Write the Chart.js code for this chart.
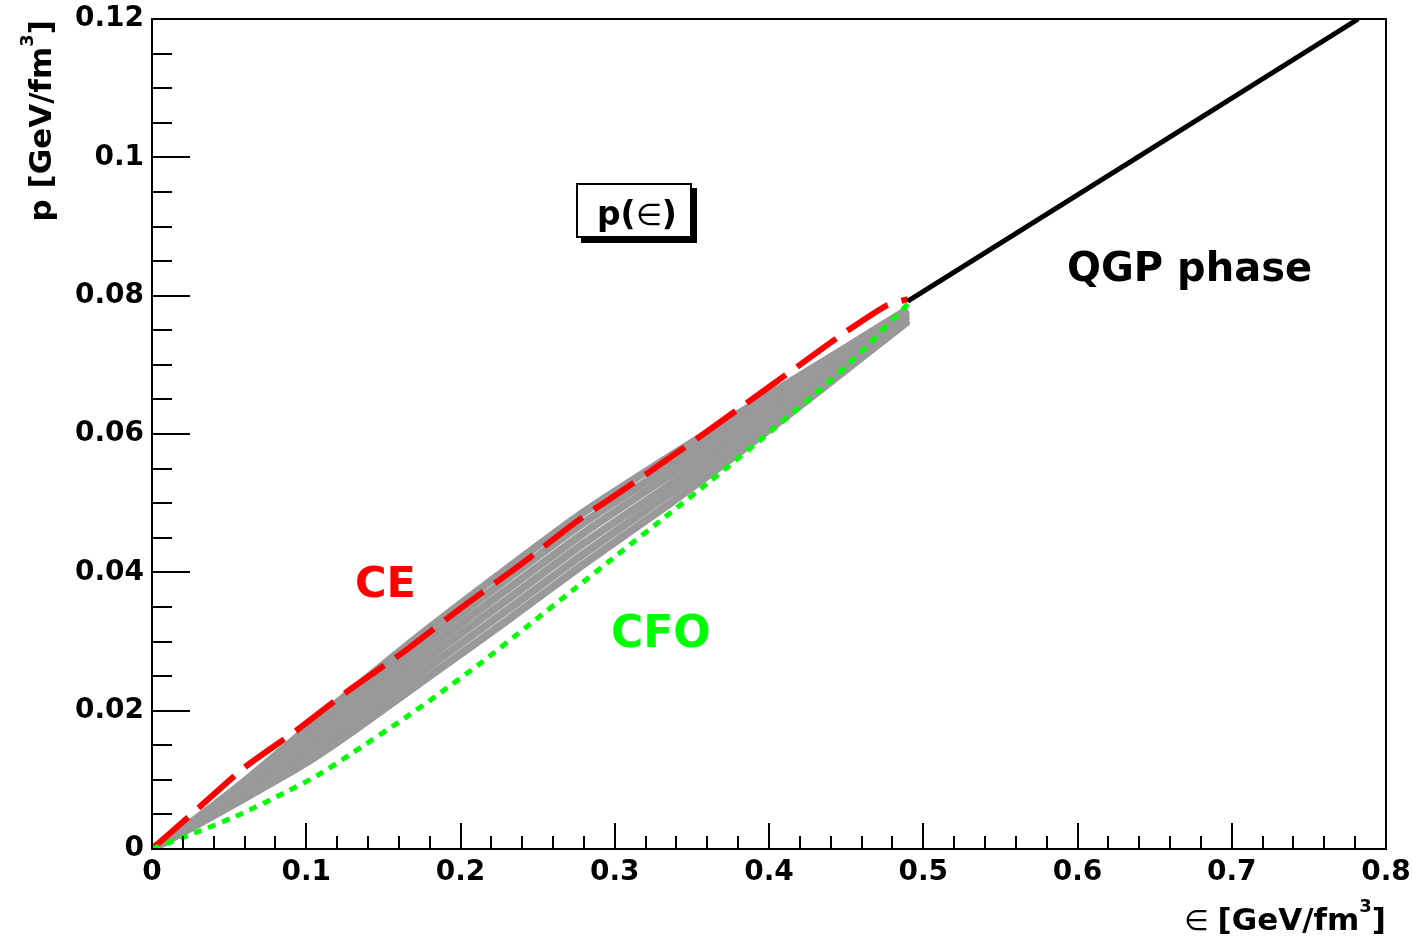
<!DOCTYPE html>
<html>
<head>
<meta charset="utf-8">
<script src="https://cdn.jsdelivr.net/npm/chart.js@4/dist/chart.umd.min.js"></script>
<style>
  html, body { margin: 0; padding: 0; background: #fff; }
  #wrap { width: 1412px; height: 942px; position: relative; }
</style>
</head>
<body>
<div id="wrap"><canvas id="eosChart"></canvas></div>
<script>
// ---- data ----
const xTickLabels = ['0', '0.1', '0.2', '0.3', '0.4', '0.5', '0.6', '0.7', '0.8'];
const yTickLabels = ['0', '0.02', '0.04', '0.06', '0.08', '0.1', '0.12'];

// CE (red, dashed)
const ceE = [0, 0.027, 0.06, 0.094, 0.128, 0.165, 0.2, 0.24, 0.275, 0.31, 0.345, 0.38, 0.415, 0.45, 0.4765, 0.49];
const ceP = [0, 0.0053, 0.0118, 0.0172, 0.023, 0.0288, 0.0348, 0.0413, 0.0473, 0.0526, 0.058, 0.0636, 0.0692, 0.0748, 0.0786, 0.0795];

// CFO (green, dotted)
const cfoE = [0, 0.031, 0.057, 0.083, 0.107, 0.128, 0.165, 0.1846, 0.2126, 0.245, 0.2755, 0.3015, 0.336, 0.362, 0.4006, 0.433, 0.459, 0.49];
const cfoP = [0, 0.0026, 0.0050, 0.0078, 0.0106, 0.0136, 0.0191, 0.0222, 0.0268, 0.0325, 0.0379, 0.0425, 0.0486, 0.0532, 0.0603, 0.0664, 0.0717, 0.0788];

// grey band of curves
const greyE = [0, 0.03, 0.065, 0.1, 0.13, 0.18, 0.23, 0.28, 0.336, 0.38, 0.415, 0.45, 0.49];
const grey1 = [0, 0.0046, 0.0107, 0.0173, 0.0230, 0.0320, 0.0405, 0.0487, 0.0568, 0.0629, 0.0677, 0.0725, 0.0780];
const grey2 = [0, 0.0044, 0.0102, 0.0163, 0.0218, 0.0306, 0.0390, 0.0472, 0.0554, 0.0618, 0.0668, 0.0719, 0.0777];
const grey3 = [0, 0.0042, 0.0096, 0.0154, 0.0206, 0.0292, 0.0375, 0.0457, 0.0541, 0.0606, 0.0659, 0.0712, 0.0773];
const grey4 = [0, 0.0040, 0.0091, 0.0144, 0.0194, 0.0278, 0.0360, 0.0442, 0.0527, 0.0595, 0.0650, 0.0706, 0.0770];
const grey5 = [0, 0.0038, 0.0085, 0.0135, 0.0182, 0.0264, 0.0345, 0.0427, 0.0514, 0.0583, 0.0641, 0.0699, 0.0766];
const grey6 = [0, 0.0036, 0.0080, 0.0125, 0.0170, 0.0250, 0.0330, 0.0412, 0.0500, 0.0572, 0.0632, 0.0693, 0.0763];

// QGP phase (black)
const qgpE = [0.49, 0.782];
const qgpP = [0.0792, 0.12];

const FONT = 'DejaVu Sans';
const toXY = (xs, ys) => xs.map((v, i) => ({ x: v, y: ys[i] }));

function greySet(vals) {
    return {
        data: toXY(greyE, vals),
        borderColor: '#999999',
        borderWidth: 8,
        order: 3
    };
}

// ticks inside the frame, ROOT style
const frameTicks = {
    id: 'frameTicks',
    afterDatasetsDraw(chart) {
        const { ctx, chartArea: a, scales: { x, y } } = chart;
        ctx.save();
        ctx.strokeStyle = '#000';
        ctx.lineWidth = 2;
        ctx.strokeRect(a.left, a.top, a.right - a.left, a.bottom - a.top);
        ctx.beginPath();
        for (let i = 0; i <= 40; i++) {
            const px = Math.round(x.getPixelForValue(i * 0.02));
            const len = i % 5 === 0 ? 26 : 13;
            ctx.moveTo(px, a.bottom);
            ctx.lineTo(px, a.bottom - len);
        }
        for (let i = 0; i <= 24; i++) {
            const py = Math.round(y.getPixelForValue(i * 0.005));
            const len = i % 4 === 0 ? 38 : 20;
            ctx.moveTo(a.left, py);
            ctx.lineTo(a.left + len, py);
        }
        ctx.stroke();
        ctx.restore();
    }
};

// draw a run of text pieces right-aligned at (xr, base)
function drawPieces(ctx, pieces, xr, base) {
    let xpos = xr;
    for (let i = pieces.length - 1; i >= 0; i--) {
        const p = pieces[i];
        ctx.font = p.font;
        const w = ctx.measureText(p.t).width;
        xpos -= w;
        ctx.fillText(p.t, xpos, base + (p.dy || 0));
    }
}

const labelsPlugin = {
    id: 'labels',
    afterDraw(chart) {
        const { ctx } = chart;
        ctx.save();
        ctx.textAlign = 'left';
        ctx.textBaseline = 'alphabetic';

        // free text in the plot
        ctx.fillStyle = '#000';
        ctx.font = 'bold 40px ' + FONT;
        ctx.fillText('QGP phase', 1067, 281);
        ctx.fillStyle = '#ff0000';
        ctx.font = 'bold 43px ' + FONT;
        ctx.fillText('CE', 355, 597);
        ctx.fillStyle = '#00ff00';
        ctx.font = 'bold 44px ' + FONT;
        ctx.fillText('CFO', 611, 647);

        // p(e) box with shadow
        ctx.fillStyle = '#000';
        ctx.fillRect(581, 188, 116, 55);
        ctx.fillStyle = '#fff';
        ctx.fillRect(576, 183, 116, 55);
        ctx.strokeStyle = '#000';
        ctx.lineWidth = 2;
        ctx.strokeRect(577, 184, 114, 53);
        ctx.fillStyle = '#000';
        ctx.font = 'bold 33px ' + FONT;
        let xp = 597;
        ctx.fillText('p(', xp, 225);
        xp += ctx.measureText('p(').width;
        ctx.font = '30px ' + FONT;
        ctx.fillText('\u2208', xp, 225);
        xp += ctx.measureText('\u2208').width;
        ctx.font = 'bold 33px ' + FONT;
        ctx.fillText(')', xp, 225);

        // x axis title
        const title = [
            { t: '\u2208 ', font: '28px ' + FONT },
            { t: '[GeV/fm', font: 'bold 31px ' + FONT },
            { t: '3', font: 'bold 18px ' + FONT, dy: -18 },
            { t: ']', font: 'bold 31px ' + FONT }
        ];
        drawPieces(ctx, title, 1386, 930);

        // y axis title (rotated)
        ctx.translate(51, 0);
        ctx.rotate(-Math.PI / 2);
        const ytitle = [
            { t: 'p [GeV/fm', font: 'bold 31px ' + FONT },
            { t: '3', font: 'bold 18px ' + FONT, dy: -18 },
            { t: ']', font: 'bold 31px ' + FONT }
        ];
        drawPieces(ctx, ytitle, -20, 0);
        ctx.restore();
    }
};

const tickFont = { family: FONT, weight: 'bold', size: 28 };

new Chart(document.getElementById('eosChart'), {
    type: 'scatter',
    data: {
        datasets: [
            {
                data: toXY(qgpE, qgpP),
                borderColor: '#000000',
                borderWidth: 5,
                order: 0
            },
            {
                data: toXY(cfoE, cfoP),
                borderColor: '#00ff00',
                borderWidth: 5,
                borderDash: [8, 7],
                order: 1
            },
            {
                data: toXY(ceE, ceP),
                borderColor: '#ff0000',
                borderWidth: 6,
                borderDash: [48, 14],
                order: 2
            },
            greySet(grey1),
            greySet(grey2),
            greySet(grey3),
            greySet(grey4),
            greySet(grey5),
            greySet(grey6)
        ]
    },
    options: {
        responsive: true,
        maintainAspectRatio: false,
        animation: false,
        showLine: true,
        elements: {
            point: { radius: 0, hoverRadius: 0 },
            line: { tension: 0.2, borderCapStyle: 'butt', fill: false }
        },
        layout: { padding: { top: 19, right: 26, left: 0, bottom: 0 } },
        plugins: {
            legend: { display: false },
            tooltip: { enabled: false }
        },
        scales: {
            x: {
                type: 'linear',
                min: 0, max: 0.8,
                grid: { display: false },
                border: { display: true, color: '#000', width: 2 },
                ticks: {
                    stepSize: 0.1,
                    autoSkip: false,
                    maxRotation: 0,
                    padding: -1,
                    color: '#000',
                    font: tickFont,
                    callback: (v, i) => xTickLabels[i]
                },
                afterFit(s) {
                    s.height = 93;
                    s.paddingLeft = 0; s.paddingRight = 0;
                }
            },
            y: {
                type: 'linear',
                min: 0, max: 0.12,
                grid: { display: false },
                border: { display: true, color: '#000', width: 2 },
                ticks: {
                    stepSize: 0.02,
                    autoSkip: false,
                    padding: 0,
                    color: '#000',
                    font: tickFont,
                    callback: (v, i) => yTickLabels[i]
                },
                afterFit(s) {
                    s.width = 152;
                    s.paddingTop = 0; s.paddingBottom = 0;
                }
            }
        }
    },
    plugins: [frameTicks, labelsPlugin]
});
</script>
</body>
</html>
